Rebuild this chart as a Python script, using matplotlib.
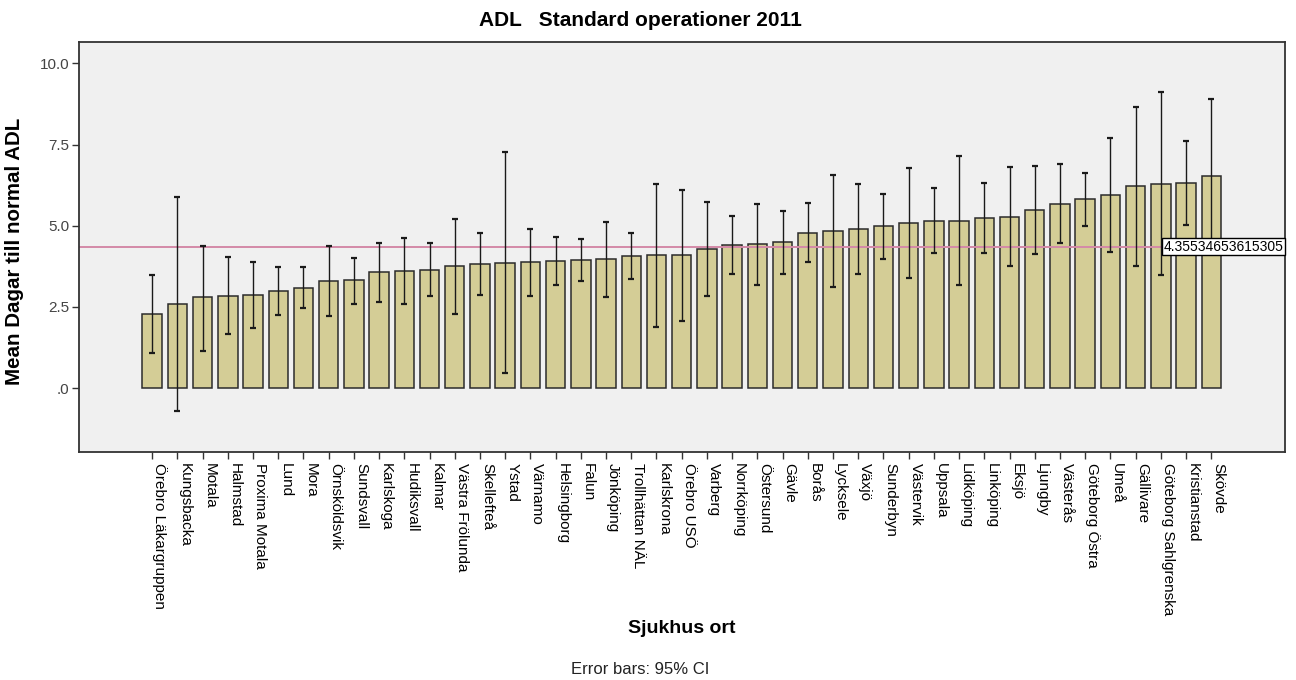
import matplotlib
matplotlib.use("Agg")
import matplotlib.pyplot as plt
import matplotlib.transforms as mtransforms
import numpy as np

plt.rcParams['font.family'] = ['Liberation Sans', 'DejaVu Sans']

# Hospitals, sorted by mean days to normal ADL
hospitals = [
    "Örebro Läkargruppen", "Kungsbacka", "Motala", "Halmstad", "Proxima Motala",
    "Lund", "Mora", "Örnsköldsvik", "Sundsvall", "Karlskoga", "Hudiksvall",
    "Kalmar", "Västra Frölunda", "Skellefteå", "Ystad", "Värnamo", "Helsingborg",
    "Falun", "Jönköping", "Trollhättan NÄL", "Karlskrona", "Örebro USÖ",
    "Varberg", "Norrköping", "Östersund", "Gävle", "Borås", "Lycksele", "Växjö",
    "Sunderbyn", "Västervik", "Uppsala", "Lidköping", "Linköping", "Eksjö",
    "Ljungby", "Västerås", "Göteborg Östra", "Umeå", "Gällivare",
    "Göteborg Sahlgrenska", "Kristianstad", "Skövde",
]
mean_days = [
    2.28, 2.59, 2.79, 2.84, 2.86, 3.00, 3.09, 3.30, 3.32, 3.56, 3.61,
    3.64, 3.75, 3.83, 3.86, 3.88, 3.92, 3.94, 3.97, 4.07, 4.09, 4.10,
    4.29, 4.40, 4.43, 4.49, 4.78, 4.84, 4.90, 4.99, 5.09, 5.15, 5.16,
    5.23, 5.27, 5.47, 5.68, 5.81, 5.96, 6.22, 6.29, 6.31, 6.53,
]
ci_upper = [
    3.47, 5.87, 4.39, 4.03, 3.88, 3.73, 3.72, 4.36, 4.02, 4.47, 4.62,
    4.47, 5.21, 4.78, 7.26, 4.90, 4.64, 4.58, 5.12, 4.78, 6.29, 6.10,
    5.73, 5.31, 5.68, 5.46, 5.71, 6.56, 6.27, 5.98, 6.79, 6.17, 7.16,
    6.32, 6.81, 6.85, 6.91, 6.63, 7.71, 8.65, 9.11, 7.61, 8.90,
]
ci_lower = [
    1.07, -0.72, 1.15, 1.66, 1.85, 2.25, 2.45, 2.21, 2.58, 2.66, 2.59,
    2.82, 2.27, 2.86, 0.46, 2.83, 3.18, 3.30, 2.81, 3.36, 1.88, 2.08,
    2.85, 3.51, 3.18, 3.52, 3.87, 3.11, 3.52, 3.98, 3.40, 4.15, 3.16,
    4.16, 3.75, 4.14, 4.46, 5.00, 4.19, 3.76, 3.48, 5.02, 4.16,
]
overall_mean = 4.35534653615305

x = np.arange(len(hospitals))
means = np.array(mean_days)
yerr = np.vstack([means - np.array(ci_lower), np.array(ci_upper) - means])

fig = plt.figure(figsize=(12.96, 6.8), dpi=100)
ax = fig.add_axes([0.061, 0.3353, 0.9306, 0.603])
ax.set_facecolor("#f0f0f0")

ax.bar(x, means, width=0.77, color="#d4cd96", edgecolor="#2b2b2b", linewidth=1.1, zorder=2)
ax.errorbar(x, means, yerr=yerr, fmt="none", ecolor="#1a1a1a", elinewidth=1.0,
            capsize=2.0, capthick=1.6, zorder=3)

# reference line at the overall mean
ax.axhline(overall_mean, color="#d48aa8", linewidth=1.4, zorder=2.5)
trans = mtransforms.blended_transform_factory(ax.transAxes, ax.transData)
ax.text(0.9985, overall_mean, f"{overall_mean}", transform=trans, ha="right", va="center",
        fontsize=10, color="black", zorder=5,
        bbox=dict(boxstyle="square,pad=0.12", fc="white", ec="black", lw=1.0))

ax.set_xlim(-2.9, 44.93)
ax.set_ylim(-1.97, 10.66)

ax.set_yticks([0, 2.5, 5.0, 7.5, 10.0])
ax.set_yticklabels([".0", "2.5", "5.0", "7.5", "10.0"], fontsize=11, color="#444444")
ax.set_xticks(x)
ax.set_xticklabels(hospitals, rotation=270, ha="left", va="bottom",
                   rotation_mode="anchor", fontsize=11)
ax.tick_params(axis="both", direction="out", length=5, width=1.0, color="#333333")
ax.tick_params(axis="x", pad=3)
ax.tick_params(axis="y", pad=2)

for spine in ax.spines.values():
    spine.set_color("#333333")
    spine.set_linewidth(1.3)

ax.set_ylabel("Mean Dagar till normal ADL", fontsize=14.8, fontweight="bold")
ax.yaxis.set_label_coords(-0.046, 0.49)
fig.text(0.494, 0.970, "ADL   Standard operationer 2011", ha="center", va="center",
         fontsize=15, fontweight="bold")
fig.text(0.526, 0.076, "Sjukhus ort", ha="center", va="center", fontsize=14, fontweight="bold")
fig.text(0.494, 0.015, "Error bars: 95% CI", ha="center", va="center", fontsize=12, color="#222222")

fig.savefig("out.png", dpi=100)
